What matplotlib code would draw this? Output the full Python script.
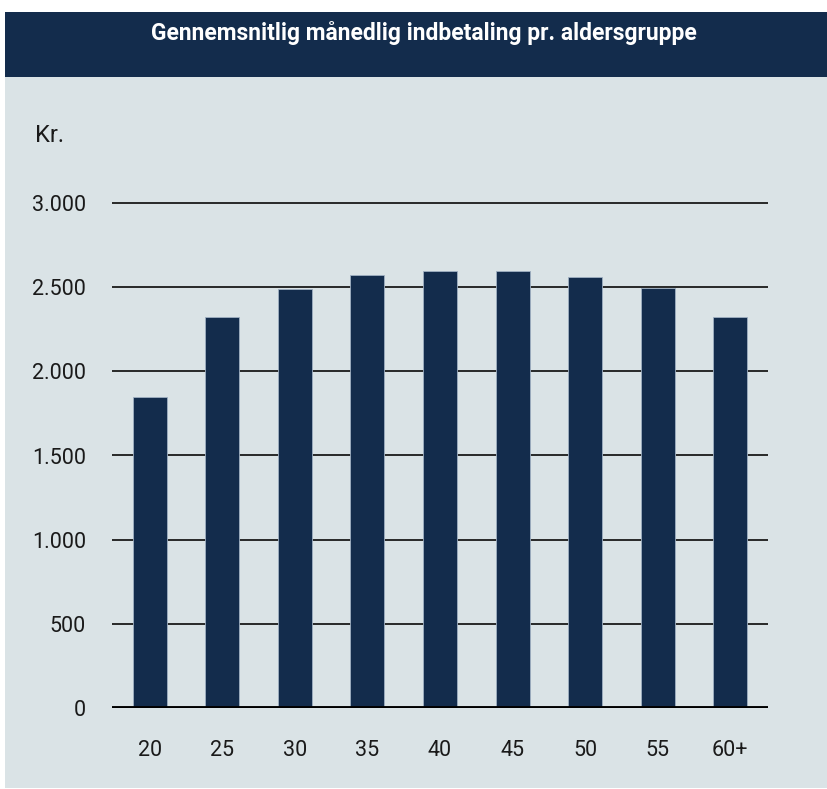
import matplotlib
matplotlib.use("Agg")
import matplotlib.pyplot as plt
from matplotlib.patches import Rectangle

categories = ["20", "25", "30", "35", "40", "45", "50", "55", "60+"]
values = [1847, 2320, 2486, 2569, 2593, 2593, 2557, 2496, 2320]
yticks = [0, 500, 1000, 1500, 2000, 2500, 3000]
ytick_labels = ["0", "500", "1.000", "1.500", "2.000", "2.500", "3.000"]
title = "Gennemsnitlig månedlig indbetaling pr. aldersgruppe"
unit_label = "Kr."

W, H = 828, 789
DPI = 100
NAVY = "#132c4c"
BG = "#dae3e6"

fig = plt.figure(figsize=(W / DPI, H / DPI), dpi=DPI, facecolor="white")

def px(x0, y0, x1, y1):
    # convert pixel box (top-left origin) into figure fraction rect
    return (x0 / W, 1 - y1 / H, (x1 - x0) / W, (y1 - y0) / H)

bx, by, bw, bh = px(5, 12, 828, 788)
fig.patches.append(Rectangle((bx, by), bw, bh, transform=fig.transFigure,
                             facecolor=BG, edgecolor="none", zorder=0))
hx, hy, hw, hh = px(5, 12, 828, 76.7)
fig.patches.append(Rectangle((hx, hy), hw, hh, transform=fig.transFigure,
                             facecolor=NAVY, edgecolor="none", zorder=1))

fig.text(424 / W, 1 - 33 / H, title, color="white", fontsize=16.5,
         fontweight="bold", family="Roboto", ha="center", va="center")
fig.text(35 / W, 1 - 136 / H, unit_label, color="#1a1a1a", fontsize=17,
         family="Roboto", ha="left", va="center")

ymax = 3100
zero_px = 708.3
top_px = zero_px - ymax / 3000 * 505.6
ax = fig.add_axes(px(112, top_px, 768, zero_px))
ax.set_zorder(5)
ax.set_facecolor("none")

x = list(range(len(categories)))
ax.bar(x, values, width=0.469, color=NAVY, edgecolor="#9fb0c2",
       linewidth=0.6, zorder=3)
for t in yticks[1:]:
    ax.axhline(t, color="#1a1a1a", lw=1.3, zorder=2)
ax.axhline(0, color="black", lw=2.8, zorder=4)

ax.set_xlim(-0.524, 8.524)
ax.set_ylim(0, ymax)
ax.set_xticks(x)
ax.set_xticklabels(categories)
ax.set_yticks(yticks)
ax.set_yticklabels(ytick_labels)
ax.tick_params(axis="both", length=0, labelsize=15.5, colors="#1a1a1a")
ax.tick_params(axis="y", pad=18.7)
ax.tick_params(axis="x", pad=23)
for lab in ax.get_xticklabels() + ax.get_yticklabels():
    lab.set_family("Roboto")
for s in ax.spines.values():
    s.set_visible(False)

fig.savefig("out.png", dpi=DPI, facecolor="white")
